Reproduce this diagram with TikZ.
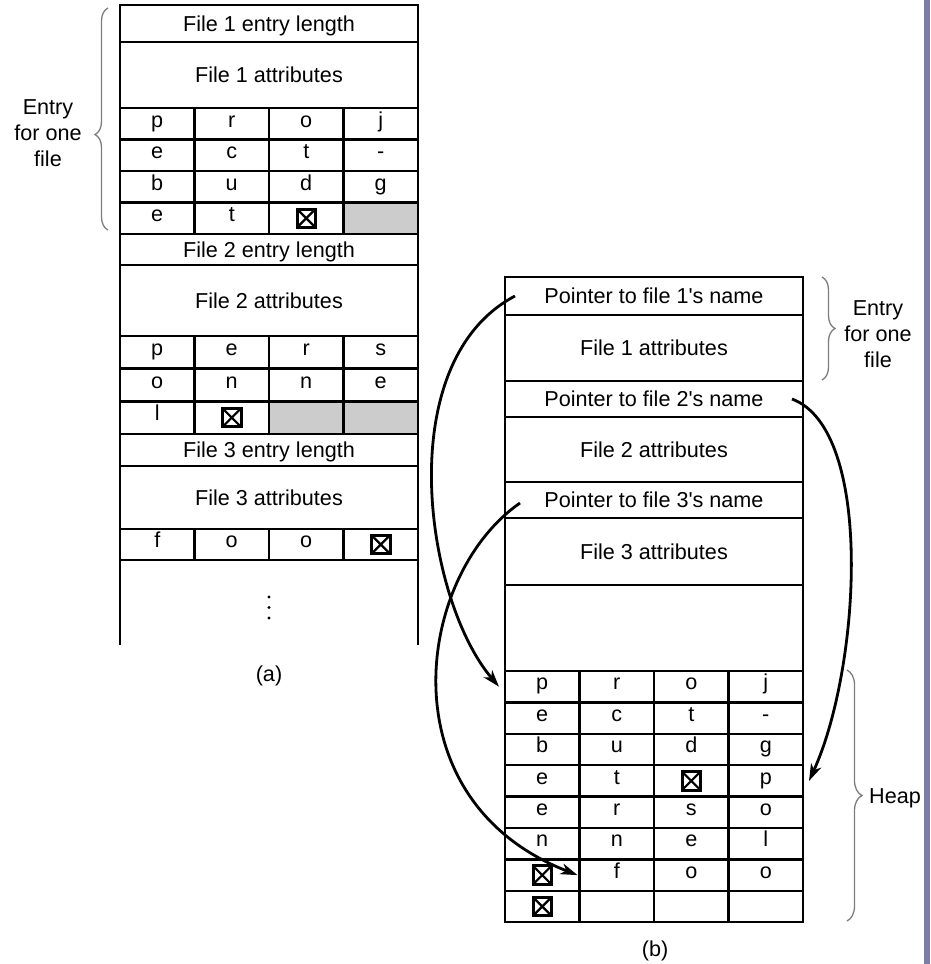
\documentclass[tikz,border=0pt]{standalone}
\usepackage{fontspec}
\setmainfont{Liberation Sans}
\usetikzlibrary{arrows.meta, positioning, decorations.pathreplacing}
\definecolor{shade}{RGB}{204,204,204}
\definecolor{bracegray}{RGB}{125,125,125}
\definecolor{edgebar}{RGB}{124,126,170}

\begin{document}
\begin{tikzpicture}[x=1pt, y=-1pt, line width=2.5pt,
   every node/.style={font=\fontsize{21.6}{26}\selectfont},
   wide/.style={draw, minimum width=298pt, inner sep=0pt, outer sep=0pt,
                text height=15.5pt, text depth=0pt, anchor=north west},
   cell/.style={draw, minimum width=74.5pt, inner sep=0pt, outer sep=0pt,
                text height=11pt, text depth=4.5pt},
   nul/.style={draw, line width=3pt, minimum size=18.5pt, inner sep=0pt,
               path picture={\draw[line width=2.2pt]
                 (path picture bounding box.north west) -- (path picture bounding box.south east)
                 (path picture bounding box.south west) -- (path picture bounding box.north east);}},
   brc/.style={decorate, draw=bracegray, line width=1.3pt,
               decoration={brace, amplitude=13pt, aspect=#1}},
   link/.style={-{Stealth[length=17pt, width=11pt, inset=5pt]}, line width=2.8pt}]

  \useasboundingbox (0,0) rectangle (930,964);
  \fill[edgebar] (924,0) rectangle (930,964);

  % (a) names stored inside the entries
  \foreach \nm/\ry/\rh/\lbl in {L1/5/37/File 1 entry length, A1/42/66/File 1 attributes,
      L2/234/31/File 2 entry length, A2/265/71/File 2 attributes,
      L3/434/32/File 3 entry length, A3/466/63/File 3 attributes}
    \node[wide, minimum height=\rh pt] (\nm) at (120,\ry) {\lbl};
  \foreach \ry/\rh/\row [count=\j] in {108/31.5/{p,r,o,j}, 139.5/31.5/{e,c,t,-},
      171/31.5/{b,u,d,g}, 202.5/31.5/{e,t,{},{}}, 336/32.7/{p,e,r,s},
      368.7/32.7/{o,n,n,e}, 401.3/32.7/{l,{},{},{}}, 529/31/{f,o,o,{}}}
    \foreach \ch [count=\i] in \row
      \node[cell, minimum height=\rh pt, anchor=north west] (a\j\i)
        at ({120+74.5*(\i-1)},\ry) {\ch};
  \node[cell, fill=shade, minimum height=31.5pt] (g1) at (a44) {};
  \node[cell, fill=shade, minimum height=32.7pt] (g2) at (a73) {};
  \node[cell, fill=shade, minimum height=32.7pt] (g3) at (a74) {};
  \foreach \c in {a43,a72,a84}
    \node[nul] (n-\c) at (\c) {};
  \draw (a81.south west) -- ++(0,85);
  \draw (a84.south east) -- ++(0,85);
  \foreach \dy in {597,607.5,618}
    \fill (269,\dy) circle (1.7);

  \draw[brc=0.43] (108,230) -- (108,8);
  \node[align=center] (ea) at (48,133) {Entry\\for one\\file};
  \node (la) at (269,676) {(a)};

  % (b) names kept in a heap
  \foreach \nm/\ry/\rh/\lbl in {P1/277/38/Pointer to file 1\textquotesingle s name, F1/315/66/File 1 attributes,
      P2/381/36/Pointer to file 2\textquotesingle s name, F2/417/65/File 2 attributes,
      P3/482/36/Pointer to file 3\textquotesingle s name, F3/518/67/File 3 attributes, FR/585/86/{}}
    \node[wide, minimum height=\rh pt] (\nm) at (505,\ry) {\lbl};
  \foreach \row [count=\j] in {{p,r,o,j},{e,c,t,-},{b,u,d,g},{e,t,{},p},
      {e,r,s,o},{n,n,e,l},{{},f,o,o},{{},{},{},{}}}
    \foreach \ch [count=\i] in \row
      \node[cell, minimum height=31.4pt, anchor=north west] (h\j\i)
        at ({505+74.5*(\i-1)},{671+31.4*(\j-1)}) {\ch};
  \foreach \c in {h43,h71,h81}
    \node[nul] (n-\c) at (\c) {};

  \draw[brc=0.5] (822,277) -- (822,380);
  \node[align=center] (eb) at (878,334) {Entry\\for one\\file};
  \draw[brc=0.5, decoration={amplitude=15pt}] (847,670) -- (847,921);
  \node (hp) at (895,798) {Heap};
  \node (lb) at (655,951) {(b)};

  \draw[link] ([xshift=10pt]P1.west) .. controls (390,362) and (425,600) .. ([xshift=-6pt]h11.west);
  \draw[link] ([xshift=-11pt]P2.east) .. controls (875,430) and (860,670) .. ([xshift=6pt]h44.east);
  \draw[link] ([xshift=15pt,yshift=-3pt]P3.west) .. controls (415,576) and (385,800) .. ([xshift=-2pt]h72.west);
\end{tikzpicture}
\end{document}
